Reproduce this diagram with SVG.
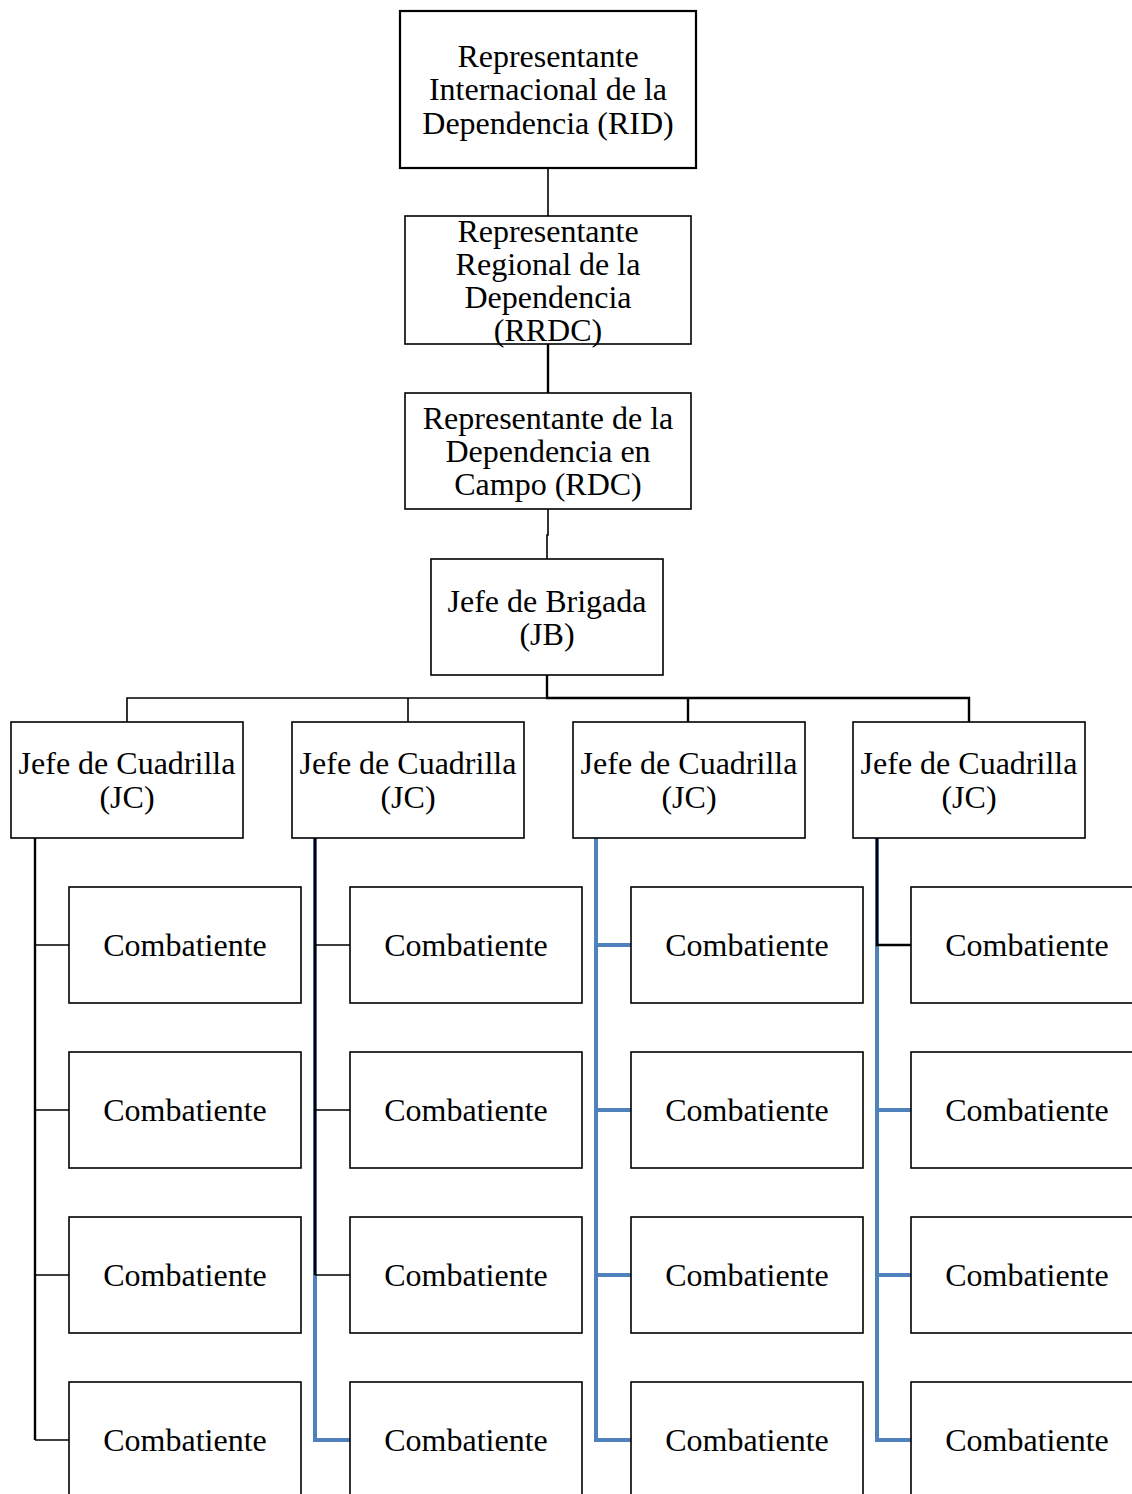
<svg xmlns="http://www.w3.org/2000/svg" width="1132" height="1494" viewBox="0 0 1132 1494">
<style>
.box{fill:#fff;stroke:#000;stroke-width:1.6}
.t{font-family:"Liberation Serif","Times New Roman",serif;font-size:32px;fill:#000;text-anchor:middle}
.k{fill:none;stroke:#000;stroke-width:1.6}
.kb{fill:none;stroke:#000;stroke-width:2.4}
.b{fill:none;stroke:#4F81BD;stroke-width:4}
</style>
<rect width="1132" height="1494" fill="#fff"/>
<g id="connectors">
<path class="k" d="M548 168V216"/>
<path class="kb" d="M548 344V393"/>
<path class="k" d="M548 509V535H547V559"/>
<path class="k" d="M547 675V698H127V722M408 698V722"/>
<path class="kb" d="M547 675V698H969V722M688 698V722"/>
<path class="kb" d="M35 838V1440"/>
<path class="k" d="M35 945H69M35 1110H69M35 1275H69M35 1440H69"/>
<path class="b" d="M315 838V1440H350"/>
<path class="kb" d="M315 838V1275"/>
<path class="k" d="M315 945H350M315 1110H350M315 1275H350"/>
<path class="b" d="M596 838V1440H631M596 945H631M596 1110H631M596 1275H631"/>
<path class="b" d="M877 838V1440H911M877 1110H911M877 1275H911"/>
<path class="kb" d="M877 838V945H911"/>
</g>
<g id="rid"><rect class="box" x="400" y="11" width="296" height="157" style="stroke-width:2.2"/>
<text class="t" x="548" y="67">Representante</text><text class="t" x="548" y="100">Internacional de la</text><text class="t" x="548" y="134">Dependencia (RID)</text></g>
<g id="rrdc"><rect class="box" x="405" y="216" width="286" height="128"/>
<text class="t" x="548" y="242">Representante</text><text class="t" x="548" y="275">Regional de la</text><text class="t" x="548" y="308">Dependencia</text><text class="t" x="548" y="341">(RRDC)</text></g>
<g id="rdc"><rect class="box" x="405" y="393" width="286" height="116"/>
<text class="t" x="548" y="429">Representante de la</text><text class="t" x="548" y="462">Dependencia en</text><text class="t" x="548" y="495">Campo (RDC)</text></g>
<g id="jb"><rect class="box" x="431" y="559" width="232" height="116"/>
<text class="t" x="547" y="612">Jefe de Brigada</text><text class="t" x="547" y="645">(JB)</text></g>
<g id="jc1"><rect class="box" x="11" y="722" width="232" height="116"/><text class="t" x="127" y="774">Jefe de Cuadrilla</text><text class="t" x="127" y="808">(JC)</text></g>
<g id="jc2"><rect class="box" x="292" y="722" width="232" height="116"/><text class="t" x="408" y="774">Jefe de Cuadrilla</text><text class="t" x="408" y="808">(JC)</text></g>
<g id="jc3"><rect class="box" x="573" y="722" width="232" height="116"/><text class="t" x="689" y="774">Jefe de Cuadrilla</text><text class="t" x="689" y="808">(JC)</text></g>
<g id="jc4"><rect class="box" x="853" y="722" width="232" height="116"/><text class="t" x="969" y="774">Jefe de Cuadrilla</text><text class="t" x="969" y="808">(JC)</text></g>
<g id="c11"><rect class="box" x="69" y="887" width="232" height="116"/><text class="t" x="185" y="956">Combatiente</text></g>
<g id="c12"><rect class="box" x="69" y="1052" width="232" height="116"/><text class="t" x="185" y="1121">Combatiente</text></g>
<g id="c13"><rect class="box" x="69" y="1217" width="232" height="116"/><text class="t" x="185" y="1286">Combatiente</text></g>
<g id="c14"><rect class="box" x="69" y="1382" width="232" height="130"/><text class="t" x="185" y="1451">Combatiente</text></g>
<g id="c21"><rect class="box" x="350" y="887" width="232" height="116"/><text class="t" x="466" y="956">Combatiente</text></g>
<g id="c22"><rect class="box" x="350" y="1052" width="232" height="116"/><text class="t" x="466" y="1121">Combatiente</text></g>
<g id="c23"><rect class="box" x="350" y="1217" width="232" height="116"/><text class="t" x="466" y="1286">Combatiente</text></g>
<g id="c24"><rect class="box" x="350" y="1382" width="232" height="130"/><text class="t" x="466" y="1451">Combatiente</text></g>
<g id="c31"><rect class="box" x="631" y="887" width="232" height="116"/><text class="t" x="747" y="956">Combatiente</text></g>
<g id="c32"><rect class="box" x="631" y="1052" width="232" height="116"/><text class="t" x="747" y="1121">Combatiente</text></g>
<g id="c33"><rect class="box" x="631" y="1217" width="232" height="116"/><text class="t" x="747" y="1286">Combatiente</text></g>
<g id="c34"><rect class="box" x="631" y="1382" width="232" height="130"/><text class="t" x="747" y="1451">Combatiente</text></g>
<g id="c41"><rect class="box" x="911" y="887" width="232" height="116"/><text class="t" x="1027" y="956">Combatiente</text></g>
<g id="c42"><rect class="box" x="911" y="1052" width="232" height="116"/><text class="t" x="1027" y="1121">Combatiente</text></g>
<g id="c43"><rect class="box" x="911" y="1217" width="232" height="116"/><text class="t" x="1027" y="1286">Combatiente</text></g>
<g id="c44"><rect class="box" x="911" y="1382" width="232" height="130"/><text class="t" x="1027" y="1451">Combatiente</text></g>
</svg>
